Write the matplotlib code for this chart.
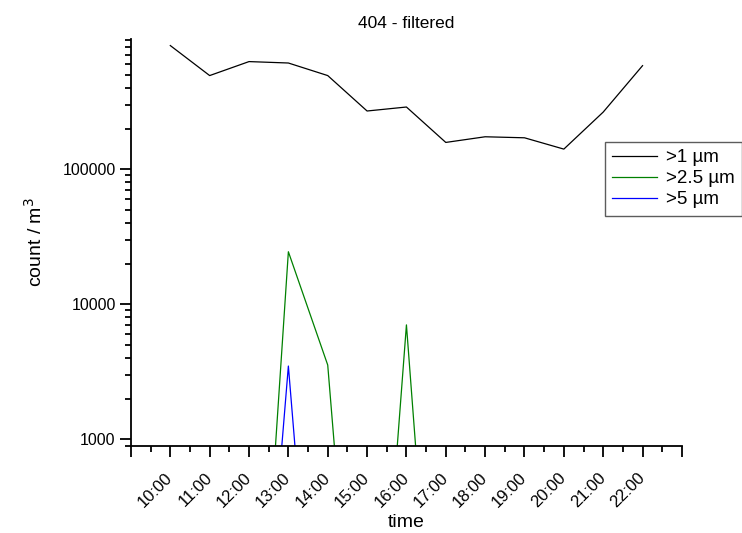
import numpy as np
import matplotlib
matplotlib.use("Agg")
import matplotlib.pyplot as plt
from matplotlib.ticker import FixedLocator, LogLocator, NullFormatter, FixedFormatter

plt.rcParams['font.family'] = ['Liberation Sans', 'DejaVu Sans']

# hours of the day
hours = [10, 11, 12, 13, 14, 15, 16, 17, 18, 19, 20, 21, 22]
# counts per m^3 (values of 1 stand for nothing counted)
over_1um = [824000, 494000, 627000, 612000, 494000, 270000, 289000,
            158000, 174000, 171000, 141000, 265000, 585000]
over_2p5um = [1, 1, 1, 24500, 3550, 1, 7040, 1, 1, 1, 1, 1, 1]
over_5um = [1, 1, 1, 3490, 1, 1, 1, 1, 1, 1, 1, 1, 1]

tick_hours = list(range(9, 24))
tick_labels = ["" if h in (9, 23) else f"{h}:00" for h in tick_hours]

fig = plt.figure(figsize=(7.42, 5.33), dpi=100)
ax = fig.add_axes([0.1765, 0.163, 0.7425, 0.764])

ax.plot(hours, over_1um, color='black', lw=0.9, label='>1 µm')
ax.plot(hours, over_2p5um, color='green', lw=0.9, label='>2.5 µm')
ax.plot(hours, over_5um, color='blue', lw=0.9, label='>5 µm')

ax.set_yscale('log')
ax.set_ylim(891, 923000)
ax.set_xlim(9, 23)

ax.yaxis.set_major_locator(FixedLocator([1000, 10000, 100000]))
ax.yaxis.set_major_formatter(FixedFormatter(['1000', '10000', '100000']))
ax.yaxis.set_minor_locator(LogLocator(base=10, subs=np.arange(2, 10)))
ax.yaxis.set_minor_formatter(NullFormatter())

ax.xaxis.set_major_locator(FixedLocator(tick_hours))
ax.xaxis.set_major_formatter(FixedFormatter(tick_labels))
ax.xaxis.set_minor_locator(FixedLocator([h + 0.5 for h in tick_hours[:-1]]))

for s in ['top', 'right']:
    ax.spines[s].set_visible(False)
for s in ['left', 'bottom']:
    ax.spines[s].set_linewidth(1.3)

ax.tick_params(which='major', length=8, width=1.3, labelsize=11.5, pad=3)
ax.tick_params(which='minor', length=4, width=1.3)
ax.tick_params(axis='x', which='major', pad=13, labelsize=12)
plt.setp(ax.get_xticklabels(), rotation=45, ha='right', va='center',
         rotation_mode='anchor')

ax.set_title('404 - filtered', fontsize=12.5, pad=8)
ax.set_xlabel('time', fontsize=14, labelpad=3)
ax.set_ylabel('count / m$^3$', fontsize=14, labelpad=12)

leg = ax.legend(loc='upper left', bbox_to_anchor=(0.815, 0.734),
                bbox_transform=fig.transFigure, fontsize=13.5, frameon=True,
                fancybox=False, borderaxespad=0, handlelength=2.4,
                handletextpad=0.45, labelspacing=0.2, borderpad=0.4)
leg.get_frame().set_edgecolor('#333333')
leg.get_frame().set_linewidth(1.0)

fig.savefig('out.png', dpi=100)
